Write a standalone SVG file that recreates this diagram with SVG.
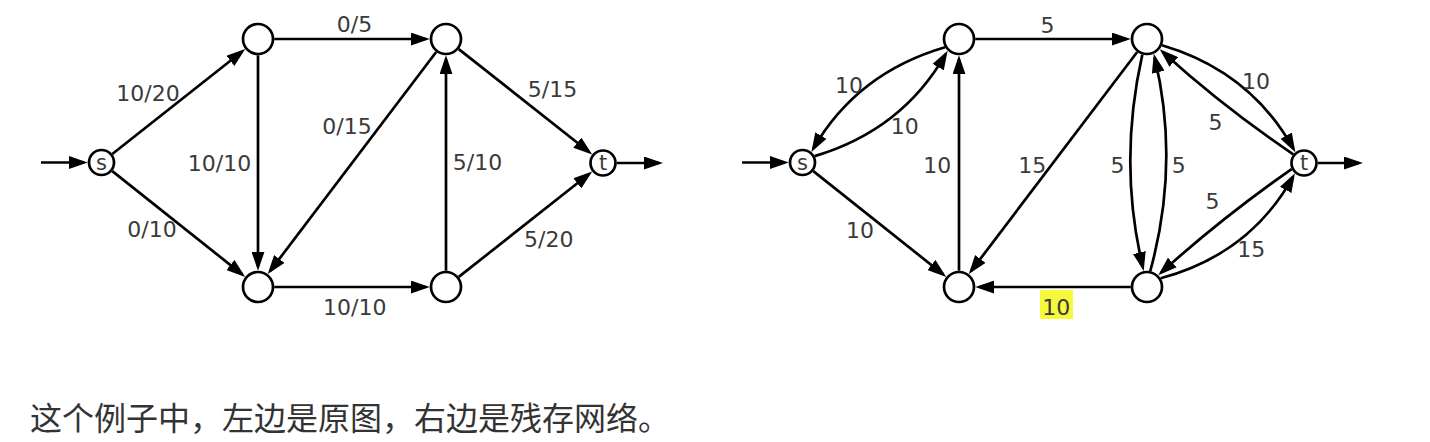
<svg xmlns="http://www.w3.org/2000/svg" width="1430" height="442" viewBox="0 0 1430 442">
<style>
.n{fill:#fff;stroke:#000;stroke-width:2.7}
.e{fill:none;stroke:#000;stroke-width:2.7;marker-end:url(#ah)}
.l{font-family:"DejaVu Sans",Verdana,sans-serif;font-size:22px;fill:#3a3a3a;text-anchor:middle}
.nl{font-family:"DejaVu Sans",Verdana,sans-serif;font-size:21px;fill:#3a3a3a;text-anchor:middle}
.cap{font-family:"Noto Sans CJK SC","Noto Sans",sans-serif;font-size:32px;fill:#333}
</style>
<defs>
<marker id="ah" markerWidth="19" markerHeight="13" refX="15" refY="6.5" orient="auto" markerUnits="userSpaceOnUse"><path d="M0,0 L19,6.5 L0,13 z" fill="#000"/></marker>
</defs>
<rect width="1430" height="442" fill="#fff"/>
<g id="connectors">
<line class="e" x1="41" y1="162.5" x2="83.75" y2="162.5"/>
<line class="e" x1="112.3" y1="154" x2="242.1" y2="51.5"/>
<line class="e" x1="112.3" y1="171.1" x2="242.15" y2="274.4"/>
<line class="e" x1="258" y1="55.25" x2="258" y2="266.75"/>
<line class="e" x1="274.25" y1="39" x2="425.75" y2="39"/>
<line class="e" x1="436.2" y1="52" x2="270.2" y2="270.9"/>
<line class="e" x1="274.25" y1="287" x2="425.75" y2="287"/>
<line class="e" x1="446" y1="270.75" x2="446" y2="59.25"/>
<line class="e" x1="458.75" y1="49.07" x2="589.07" y2="152"/>
<line class="e" x1="458.75" y1="276.93" x2="589.07" y2="174"/>
<line class="e" x1="616.75" y1="163" x2="659" y2="163"/>
<line class="e" x1="742" y1="162.5" x2="784.75" y2="162.5"/>
<path class="e" d="M945,47.3 Q857.2,72.9 813.4,148.5"/>
<path class="e" d="M814.7,156.1 Q902.3,130 945.6,54.1"/>
<line class="e" x1="813.3" y1="171.1" x2="943.15" y2="274.4"/>
<line class="e" x1="959" y1="270.75" x2="959" y2="59.25"/>
<line class="e" x1="975.25" y1="39" x2="1126.75" y2="39"/>
<line class="e" x1="1137.2" y1="52" x2="971.2" y2="270.9"/>
<line class="e" x1="1130.75" y1="287" x2="979.25" y2="287"/>
<path class="e" d="M1142.3,54.6 Q1118,163 1142.8,267.2"/>
<path class="e" d="M1150.25,271.1 Q1180,163 1154.7,57.6"/>
<path class="e" d="M1162,45.3 Q1250.4,71.4 1293.4,148.8"/>
<path class="e" d="M1293.3,154.3 Q1222.8,106.5 1162.7,51.9"/>
<path class="e" d="M1291.6,169.05 Q1221.5,218.1 1161.2,272.6"/>
<path class="e" d="M1160.7,278.3 Q1250,254.2 1293,176.8"/>
<line class="e" x1="1317.75" y1="163" x2="1359" y2="163"/>
</g>
<g id="left-s"><circle class="n" cx="101.5" cy="162.5" r="12.5"/><text class="nl" x="101.5" y="169.5">s</text></g>
<g id="left-a"><circle class="n" cx="258" cy="39" r="15"/></g>
<g id="left-b"><circle class="n" cx="258" cy="287" r="15"/></g>
<g id="left-c"><circle class="n" cx="446" cy="39" r="15"/></g>
<g id="left-d"><circle class="n" cx="446" cy="287" r="15"/></g>
<g id="left-t"><circle class="n" cx="603" cy="163" r="12.5"/><text class="nl" x="603" y="170">t</text></g>
<g id="right-s"><circle class="n" cx="802.5" cy="162.5" r="12.5"/><text class="nl" x="802.5" y="169.5">s</text></g>
<g id="right-a"><circle class="n" cx="959" cy="39" r="15"/></g>
<g id="right-b"><circle class="n" cx="959" cy="287" r="15"/></g>
<g id="right-c"><circle class="n" cx="1147" cy="39" r="15"/></g>
<g id="right-d"><circle class="n" cx="1147" cy="287" r="15"/></g>
<g id="right-t"><circle class="n" cx="1304" cy="163" r="12.5"/><text class="nl" x="1304" y="170">t</text></g>
<g id="labels">
<text class="l" x="148" y="101">10/20</text>
<text class="l" x="219.5" y="171">10/10</text>
<text class="l" x="152" y="237">0/10</text>
<text class="l" x="354.5" y="32">0/5</text>
<text class="l" x="347" y="134">0/15</text>
<text class="l" x="354.7" y="315">10/10</text>
<text class="l" x="477.5" y="170">5/10</text>
<text class="l" x="552.5" y="97">5/15</text>
<text class="l" x="548.7" y="246.5">5/20</text>
<text class="l" x="1047.5" y="32.7">5</text>
<text class="l" x="849" y="93">10</text>
<text class="l" x="904.8" y="134">10</text>
<text class="l" x="937.2" y="173.3">10</text>
<text class="l" x="1032.2" y="173.3">15</text>
<text class="l" x="860" y="238.3">10</text>
<rect x="1040" y="290" width="33" height="29" fill="#f7f73c"/>
<text class="l" x="1056.3" y="315">10</text>
<text class="l" x="1256" y="89">10</text>
<text class="l" x="1215.5" y="130">5</text>
<text class="l" x="1117.5" y="173.3">5</text>
<text class="l" x="1178.8" y="173.3">5</text>
<text class="l" x="1212.5" y="209.3">5</text>
<text class="l" x="1251.2" y="256.7">15</text>
</g>
<text class="cap" x="30" y="430">这个例子中，左边是原图，右边是残存网络。</text>
</svg>
